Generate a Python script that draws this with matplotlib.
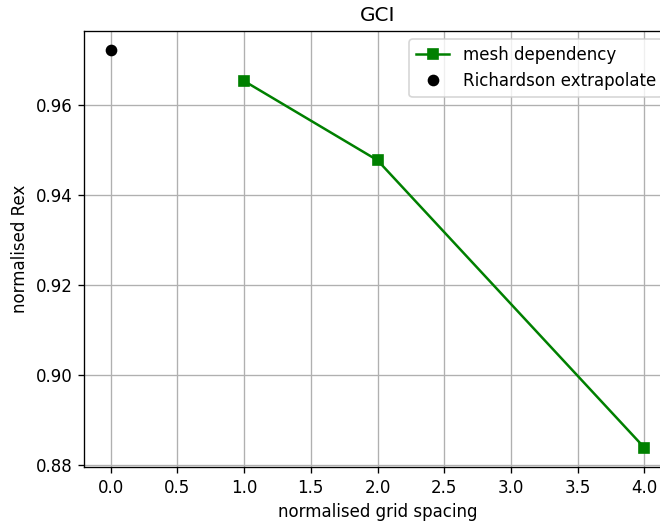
import matplotlib
matplotlib.use("Agg")
import matplotlib.pyplot as plt

mesh_x = [1.0, 2.0, 4.0]
mesh_y = [0.9653, 0.9477, 0.8839]
rich_x = [0.0]
rich_y = [0.9721]

DPI = 120
W, H = 660, 525
fig = plt.figure(figsize=(W / DPI, H / DPI), dpi=DPI)
left, top, bottom, right = 84, 31, 467, 671
ax = fig.add_axes([left / W, (H - bottom) / H, (right - left) / W, (bottom - top) / H])

ax.plot(mesh_x, mesh_y, 'gs-', label='mesh dependency')
ax.plot(rich_x, rich_y, 'ko', label='Richardson extrapolate')
ax.set_xlim(-0.2, 4.2)
ax.set_ylim(0.8796, 0.9764)
ax.set_title('GCI')
ax.set_xlabel('normalised grid spacing')
ax.set_ylabel('normalised Rex')
ax.grid(True)
ax.legend(loc='upper right')

fig.savefig('out.png', dpi=DPI)
